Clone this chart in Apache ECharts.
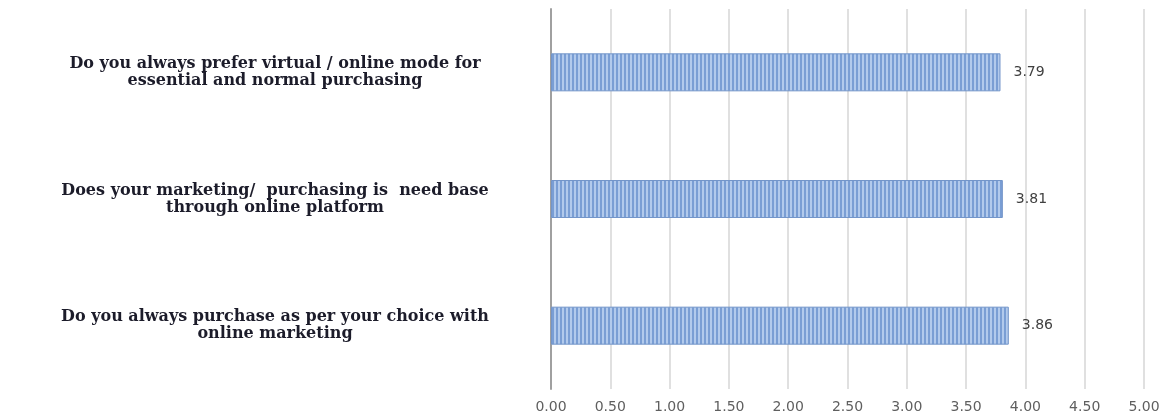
<!DOCTYPE html>
<html>
<head>
<meta charset="utf-8">
<script src="https://cdn.jsdelivr.net/npm/echarts@6/dist/echarts.min.js"></script>
<style>
  html, body { margin: 0; padding: 0; background: #fff; }
  #chart { width: 1166px; height: 415px; }
</style>
</head>
<body>
<div id="chart"></div>
<script>
// questions, listed top to bottom
const questions = [
  'Do you always prefer virtual / online mode for\nessential and normal purchasing',
  'Does your marketing/  purchasing is  need base\nthrough online platform',
  'Do you always purchase as per your choice with\nonline marketing',
];
const means = [3.79, 3.81, 3.86];
const xTicks = ['0.00', '0.50', '1.00', '1.50', '2.00', '2.50', '3.00', '3.50', '4.00', '4.50', '5.00'];

// vertical-stripe fill like the Excel bar pattern
function stripePattern() {
  const c = document.createElement('canvas');
  c.width = 4;
  c.height = 4;
  const ctx = c.getContext('2d');
  ctx.fillStyle = '#b2caec';
  ctx.fillRect(0, 0, 4, 4);
  ctx.fillStyle = '#7a9ed4';
  ctx.fillRect(0, 0, 2, 4);
  return c;
}

const chart = echarts.init(document.getElementById('chart'), null, { renderer: 'canvas' });

chart.setOption({
  animation: false,
  grid: { left: 551, right: 22, top: 9, bottom: 26 },
  xAxis: {
    type: 'value',
    min: 0,
    max: 5,
    interval: 0.5,
    axisLine: { show: false },
    axisTick: { show: false },
    splitLine: { show: true, lineStyle: { color: '#e0e0e0', width: 2 } },
    axisLabel: {
      margin: 11,
      color: '#5f5f5f',
      fontFamily: 'DejaVu Sans',
      fontSize: 14,
      formatter: (v) => xTicks[Math.round(v * 2)] ?? v.toFixed(2),
    },
  },
  yAxis: {
    type: 'category',
    inverse: true,
    data: questions,
    axisLine: { show: true, lineStyle: { color: '#a0a0a0', width: 2 } },
    axisTick: { show: false },
    axisLabel: {
      margin: 276,
      align: 'center',
      color: '#1c1c2a',
      fontFamily: 'DejaVu Serif',
      fontWeight: 'bold',
      fontSize: 16,
      lineHeight: 17,
    },
  },
  series: [
    {
      type: 'bar',
      data: means,
      barWidth: '30%',
      itemStyle: {
        color: { image: stripePattern(), repeat: 'repeat' },
        borderColor: '#7395c9',
        borderWidth: 1,
      },
      label: {
        show: true,
        position: 'right',
        distance: 13,
        color: '#404040',
        fontFamily: 'DejaVu Sans',
        fontSize: 14,
        formatter: (p) => p.value.toFixed(2),
      },
    },
  ],
});
</script>
</body>
</html>
